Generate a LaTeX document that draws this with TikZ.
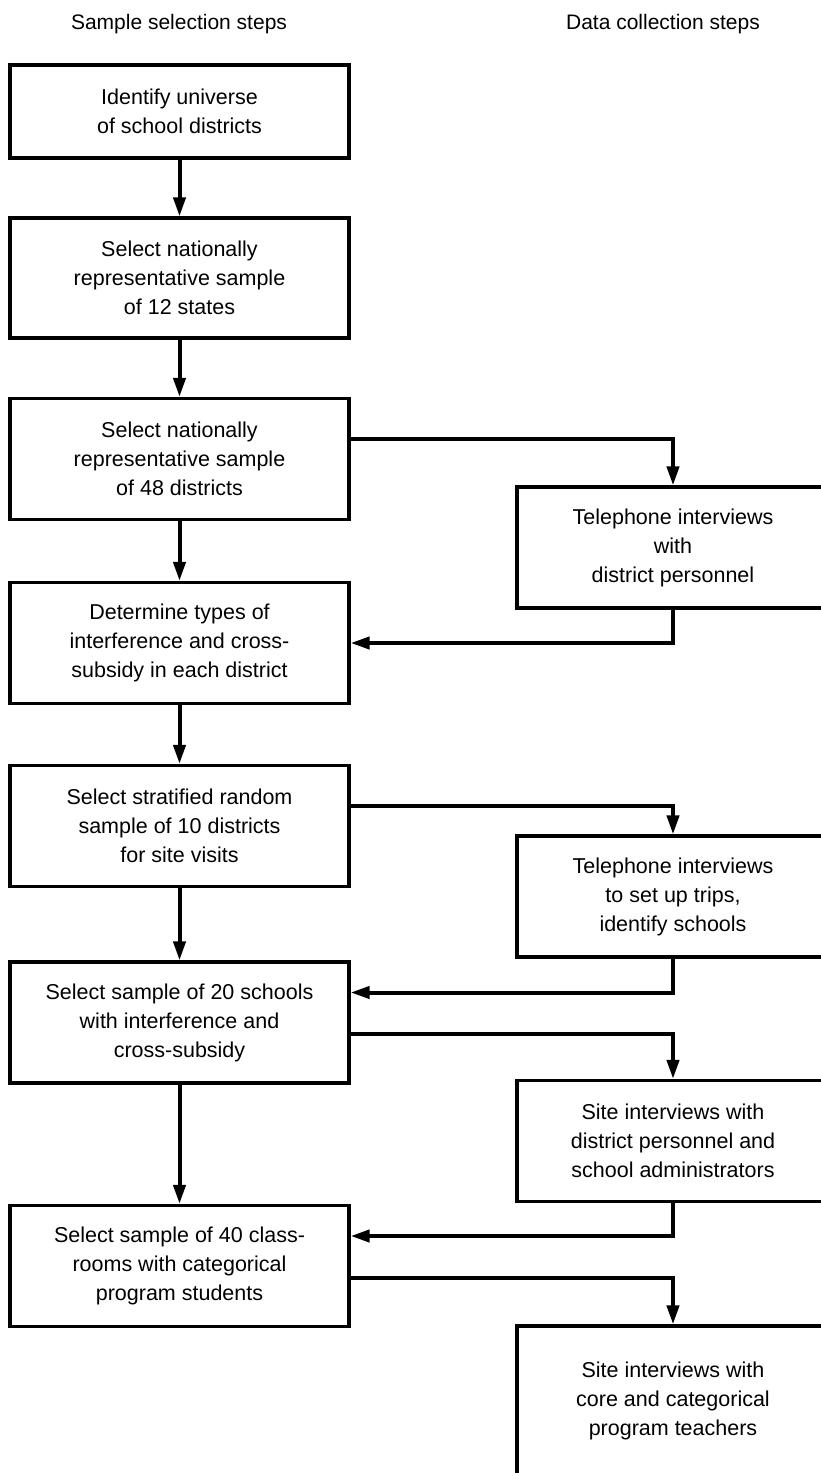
\documentclass[tikz,border=0pt]{standalone}
\usepackage{fontspec}
\setmainfont{Liberation Sans}
\usetikzlibrary{arrows.meta}

\tikzset{
  stepbox/.style={draw, line width=3.2pt, align=center, inner sep=0pt,
    minimum width=339pt, minimum height=121pt,
    font=\fontsize{21.5}{29}\selectfont},
  databox/.style={stepbox, minimum width=312pt},
  colhead/.style={font=\fontsize{21}{29}\selectfont},
  flow/.style={line width=4pt, -{Triangle[length=19pt,width=12pt]}}
}

\begin{document}
\begin{tikzpicture}[x=1pt,y=-1pt]
        \useasboundingbox (0,0) rectangle (821,1473);
        \node[colhead] (h1) at (179,24) {Sample selection steps};
        \node[colhead] (h2) at (663,24) {Data collection steps};
        % sample selection
        \node[stepbox, minimum height=93pt] (s1) at (179.5,111.5) {Identify universe\\of school districts};
        \node[stepbox, minimum height=120pt] (s2) at (179.5,278) {Select nationally\\representative sample\\of 12 states};
        \node[stepbox] (s3) at (179.5,459) {Select nationally\\representative sample\\of 48 districts};
        \node[stepbox] (s4) at (179.5,643) {Determine types of\\interference and cross-\\subsidy in each district};
        \node[stepbox] (s5) at (179.5,826) {Select stratified random\\sample of 10 districts\\for site visits};
        \node[stepbox] (s6) at (179.5,1022.5) {Select sample of 20 schools\\with interference and\\cross-subsidy};
        \node[stepbox] (s7) at (179.5,1266) {Select sample of 40 class-\\rooms with categorical\\program students};
        % data collection
        \node[databox] (d1) at (673,547.5) {Telephone interviews\\with\\district personnel};
        \node[databox] (d2) at (673,896.5) {Telephone interviews\\to set up trips,\\identify schools};
        \node[databox] (d3) at (673,1141) {Site interviews with\\district personnel and\\school administrators};
        \node[databox, minimum height=150pt] (d4) at (673,1401) {Site interviews with\\core and categorical\\program teachers};

        \draw[flow] (s1.south) -- (s2.north);
        \draw[flow] (s2.south) -- (s3.north);
        \draw[flow] (s3.south) -- (s4.north);
        \draw[flow] (s4.south) -- (s5.north);
        \draw[flow] (s5.south) -- (s6.north);
        \draw[flow] (s6.south) -- (s7.north);
        \draw[flow] ([yshift=20pt]s3.east) -| (d1.north);
        \draw[flow] (d1.south) |- (s4.east);
        \draw[flow] ([yshift=20pt]s5.east) -| (d2.north);
        \draw[flow] (d2.south) |- ([yshift=30pt]s6.east);
        \draw[flow] ([yshift=-11pt]s6.east) -| (d3.north);
        \draw[flow] (d3.south) |- ([yshift=30pt]s7.east);
        \draw[flow] ([yshift=-12pt]s7.east) -| (d4.north);
    \end{tikzpicture}
\end{document}
